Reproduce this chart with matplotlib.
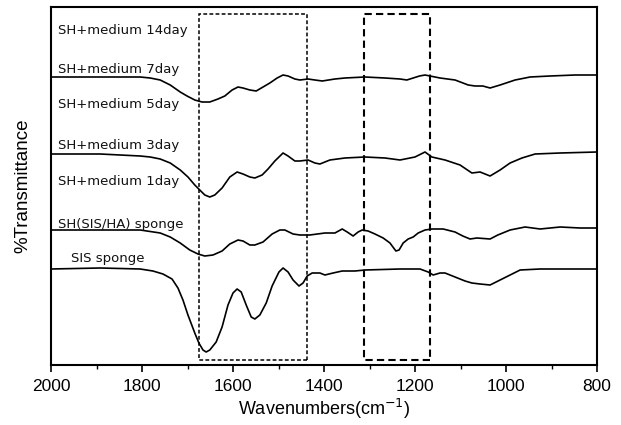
import matplotlib
matplotlib.use("Agg")
import matplotlib.pyplot as plt
from matplotlib.patches import Rectangle

# ---- data (wavenumber, cm-1 ; transmittance, a.u.) ----
wn_7day = [2000, 1892, 1804, 1782, 1760, 1738, 1716, 1701, 1684, 1668, 1651, 1633, 1618, 1602, 1589,
           1578, 1563, 1549, 1534, 1519, 1503, 1490, 1479, 1464, 1453, 1435, 1420, 1404, 1376, 1354,
           1310, 1266, 1233, 1218, 1190, 1178, 1145, 1112, 1083, 1068, 1051, 1035, 1013, 980, 947,
           903, 848, 800]
t_7day = [288, 288, 288, 287, 285, 280, 273, 269, 265, 263, 263, 266, 269, 275, 278,
          277, 275, 274, 278, 282, 287, 290, 289, 286, 285, 286, 285, 284, 286, 287,
          288, 287, 286, 285, 289, 290, 287, 285, 280, 279, 279, 277, 280, 285, 288,
          289, 290, 290]

wn_3day = [2000, 1892, 1804, 1782, 1760, 1738, 1716, 1699, 1684, 1673, 1662, 1651, 1640, 1624, 1607,
           1591, 1578, 1563, 1552, 1536, 1523, 1508, 1490, 1479, 1464, 1453, 1435, 1420, 1409, 1387,
           1354, 1310, 1266, 1233, 1200, 1178, 1163, 1134, 1101, 1075, 1057, 1035, 1013, 991, 965,
           936, 881, 800]
t_3day = [211, 211, 209, 208, 206, 202, 195, 188, 180, 175, 170, 168, 170, 177, 188,
          193, 191, 188, 187, 190, 196, 204, 212, 209, 204, 204, 205, 202, 201, 205,
          207, 208, 207, 205, 208, 213, 208, 205, 200, 192, 193, 189, 195, 202, 207,
          211, 212, 213]

wn_shha = [2000, 1892, 1804, 1760, 1738, 1716, 1695, 1677, 1662, 1644, 1624, 1607, 1589, 1578, 1563,
           1552, 1534, 1514, 1497, 1486, 1468, 1453, 1431, 1398, 1376, 1360, 1349, 1336, 1325, 1316,
           1303, 1288, 1270, 1255, 1242, 1235, 1226, 1215, 1204, 1193, 1178, 1163, 1138, 1112, 1095,
           1079, 1064, 1035, 1018, 991, 958, 925, 881, 837, 800]
t_shha = [135, 135, 135, 132, 128, 122, 115, 111, 109, 110, 114, 121, 125, 124, 120,
          120, 123, 131, 135, 135, 131, 130, 130, 132, 132, 136, 133, 129, 133, 135,
          134, 131, 127, 122, 114, 115, 122, 126, 128, 132, 135, 136, 136, 133, 129,
          126, 127, 126, 130, 135, 138, 136, 138, 137, 137]

wn_sis = [2000, 1892, 1804, 1776, 1754, 1734, 1721, 1710, 1699, 1684, 1675, 1666, 1659, 1651, 1637,
          1624, 1611, 1600, 1591, 1582, 1571, 1560, 1552, 1541, 1527, 1514, 1499, 1490, 1479, 1468,
          1455, 1446, 1437, 1426, 1409, 1398, 1380, 1360, 1332, 1310, 1233, 1189, 1171, 1160, 1145,
          1134, 1112, 1090, 1075, 1057, 1035, 1013, 991, 969, 925, 800]
t_sis = [96, 97, 96, 94, 91, 86, 77, 65, 50, 32, 22, 15, 13, 15, 23,
         38, 60, 72, 76, 73, 60, 48, 46, 50, 62, 79, 93, 97, 93, 85,
         79, 82, 89, 92, 92, 90, 92, 94, 94, 95, 96, 96, 93, 90, 92,
         92, 88, 84, 82, 81, 80, 85, 90, 95, 96, 96]

labels = ["SH+medium 14day", "SH+medium 7day", "SH+medium 5day", "SH+medium 3day",
          "SH+medium 1day", "SH(SIS/HA) sponge", "SIS sponge"]
label_wn = [1985, 1985, 1985, 1985, 1985, 1985, 1955]
label_t = [331, 292, 257, 216, 180, 137, 103]

box1 = (1675, 1437)
box2 = (1311, 1167)
box_t = (5, 351)

xticks = [2000, 1800, 1600, 1400, 1200, 1000, 800]

# ---- figure ----
fig = plt.figure(figsize=(6.21, 4.25), dpi=100)
ax = fig.add_axes([51/621, 1-365/425, (597-51)/621, (365-7)/425])

for wn, t in [(wn_7day, t_7day), (wn_3day, t_3day), (wn_shha, t_shha), (wn_sis, t_sis)]:
    ax.plot(wn, t, color="black", lw=1.2, solid_joinstyle="round")

for lab, x, y in zip(labels, label_wn, label_t):
    ax.text(x, y, lab, fontsize=9.5, family="DejaVu Sans", va="baseline", ha="left", color="#111111")

ax.add_patch(Rectangle((box1[1], box_t[0]), box1[0]-box1[1], box_t[1]-box_t[0], fill=False,
                       ls=(0, (2.5, 1.5)), lw=1.1, ec="black"))
ax.add_patch(Rectangle((box2[1], box_t[0]), box2[0]-box2[1], box_t[1]-box_t[0], fill=False,
                       ls=(0, (3.5, 2)), lw=1.5, ec="black"))

ax.set_xlim(2000, 800)
ax.set_ylim(0, 358)
ax.set_xticks(xticks)
ax.set_xticks(range(800, 2001, 100), minor=True)
ax.set_yticks([])
ax.tick_params(axis="x", direction="out", length=5, width=1.2, labelsize=12.5, pad=5)
ax.tick_params(axis="x", which="minor", direction="out", length=3, width=1.0)
for lab in ax.get_xticklabels():
    lab.set_family("Liberation Sans")
for s in ax.spines.values():
    s.set_linewidth(1.5)

ax.set_xlabel("Wavenumbers(cm$^{-1}$)", fontsize=13, family="Liberation Sans", labelpad=2)
ax.set_ylabel("%Transmittance", fontsize=13.5, family="Liberation Sans", labelpad=14)

fig.savefig("out.png", dpi=100)
